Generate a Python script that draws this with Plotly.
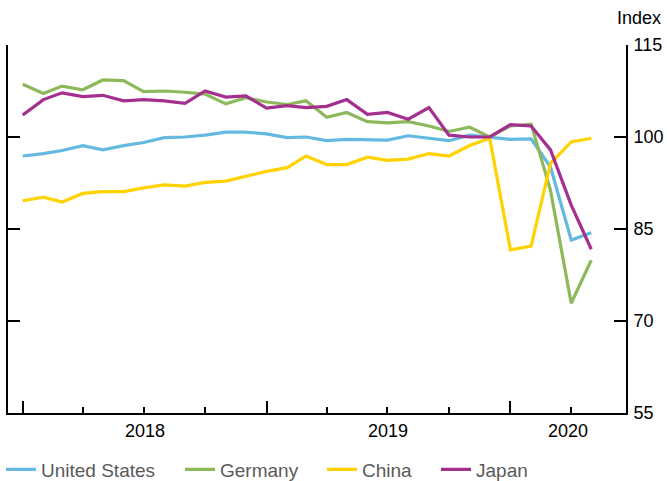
import pandas as pd
import plotly.graph_objects as go

months = pd.date_range("2018-01-01", periods=29, freq="MS").strftime("%Y-%m-%d").tolist()

united_states = [96.9, 97.3, 97.8, 98.6, 97.9, 98.6, 99.1, 99.9, 100.0, 100.3,
                 100.8, 100.8, 100.5, 99.9, 100.0, 99.4, 99.6, 99.6, 99.5, 100.2,
                 99.8, 99.4, 100.3, 100.0, 99.6, 99.7, 95.1, 83.2, 84.4]
germany = [108.6, 107.1, 108.3, 107.7, 109.3, 109.2, 107.4, 107.5, 107.3, 107.0,
           105.4, 106.4, 105.7, 105.3, 105.9, 103.2, 104.0, 102.5, 102.3, 102.5,
           101.8, 100.9, 101.6, 100.0, 101.8, 102.1, 91.3, 72.9, 79.9]
china = [89.6, 90.2, 89.4, 90.8, 91.1, 91.1, 91.7, 92.2, 92.0, 92.6,
         92.8, 93.6, 94.4, 95.0, 96.9, 95.5, 95.5, 96.7, 96.2, 96.4,
         97.3, 96.9, 98.6, 99.8, 81.6, 82.2, 95.7, 99.2, 99.8]
japan = [103.6, 106.1, 107.2, 106.6, 106.8, 105.9, 106.1, 105.9, 105.5, 107.5,
         106.5, 106.7, 104.7, 105.1, 104.8, 105.0, 106.1, 103.7, 104.0, 102.9,
         104.8, 100.3, 100.0, 100.0, 102.0, 101.8, 97.9, 88.9, 81.7]

series_names = ["United States", "Germany", "China", "Japan"]
series_values = [united_states, germany, china, japan]
series_colors = ["#64B9E1", "#8DB95B", "#FFD200", "#A52F8E"]

y_ticks = [55, 70, 85, 100, 115]
year_labels = ["2018", "2019", "2020"]
x_range = ["2017-12-10", "2020-06-22"]

W, H = 667, 481
legend_ids = ["legend", "legend2", "legend3", "legend4"]
legend_left_px = [1, 180, 322, 436]

fig = go.Figure()
for name, vals, col, lid in zip(series_names, series_values, series_colors, legend_ids):
    fig.add_trace(go.Scatter(x=months, y=vals, name=name, mode="lines", legend=lid,
                             line=dict(color=col, width=3.2)))

# year labels centred in visible part of each year
r0, r1 = pd.Timestamp(x_range[0]), pd.Timestamp(x_range[1])
for yl in year_labels:
    a = max(pd.Timestamp(f"{yl}-01-01"), r0)
    b = min(pd.Timestamp(f"{int(yl)+1}-01-01"), r1)
    mid = a + (b - a) / 2
    fig.add_annotation(x=mid.strftime("%Y-%m-%d %H:%M"), xref="x", y=0, yref="paper",
                       yshift=-18, yanchor="middle", text=yl, showarrow=False,
                       font=dict(size=18, color="#000000"))

fig.add_annotation(x=1.0599, xref="paper", y=1.0734, yref="paper", xanchor="right",
                   yanchor="middle", text="Index", showarrow=False,
                   font=dict(size=18, color="#000000"))

legend_layout = {}
for lid, lx in zip(legend_ids, legend_left_px):
    legend_layout[lid] = dict(orientation="h", xref="container", yref="container",
                              x=lx / W, xanchor="left", y=1 - 469.5 / H, yanchor="middle",
                              font=dict(size=19, color="#5a5a5a"),
                              bgcolor="rgba(0,0,0,0)", itemwidth=30)

fig.update_layout(
    width=W, height=H,
    margin=dict(l=8, r=41, t=45, b=68, autoexpand=False),
    paper_bgcolor="white", plot_bgcolor="white",
    font=dict(family="Liberation Sans, Arial, sans-serif", size=18, color="#000000"),
    showlegend=True,
    xaxis=dict(type="date", range=x_range, showgrid=False, zeroline=False,
               automargin=False,
               showline=True, linecolor="black", linewidth=2,
               tickmode="array", tickvals=["2018-01-01", "2019-01-01", "2020-01-01"],
               ticks="inside", ticklen=12, tickwidth=2, tickcolor="black",
               showticklabels=False,
               minor=dict(ticks="inside", ticklen=6, tickwidth=2, tickcolor="black",
                          dtick="M3", tick0="2018-01-01", showgrid=False)),
    yaxis=dict(range=[55, 115], side="right", showgrid=False, zeroline=False,
               automargin=False,
               showline=True, linecolor="black", linewidth=2, mirror="ticks",
               tickmode="array", tickvals=y_ticks,
               ticks="inside", ticklen=12, tickwidth=2, tickcolor="black",
               ticklabelstandoff=2,
               tickfont=dict(size=18, color="#000000")),
    **legend_layout,
)

fig.write_html("out.html", config={"displayModeBar": False},
               post_script="document.body.style.margin='0px';document.body.style.overflow='hidden';")
